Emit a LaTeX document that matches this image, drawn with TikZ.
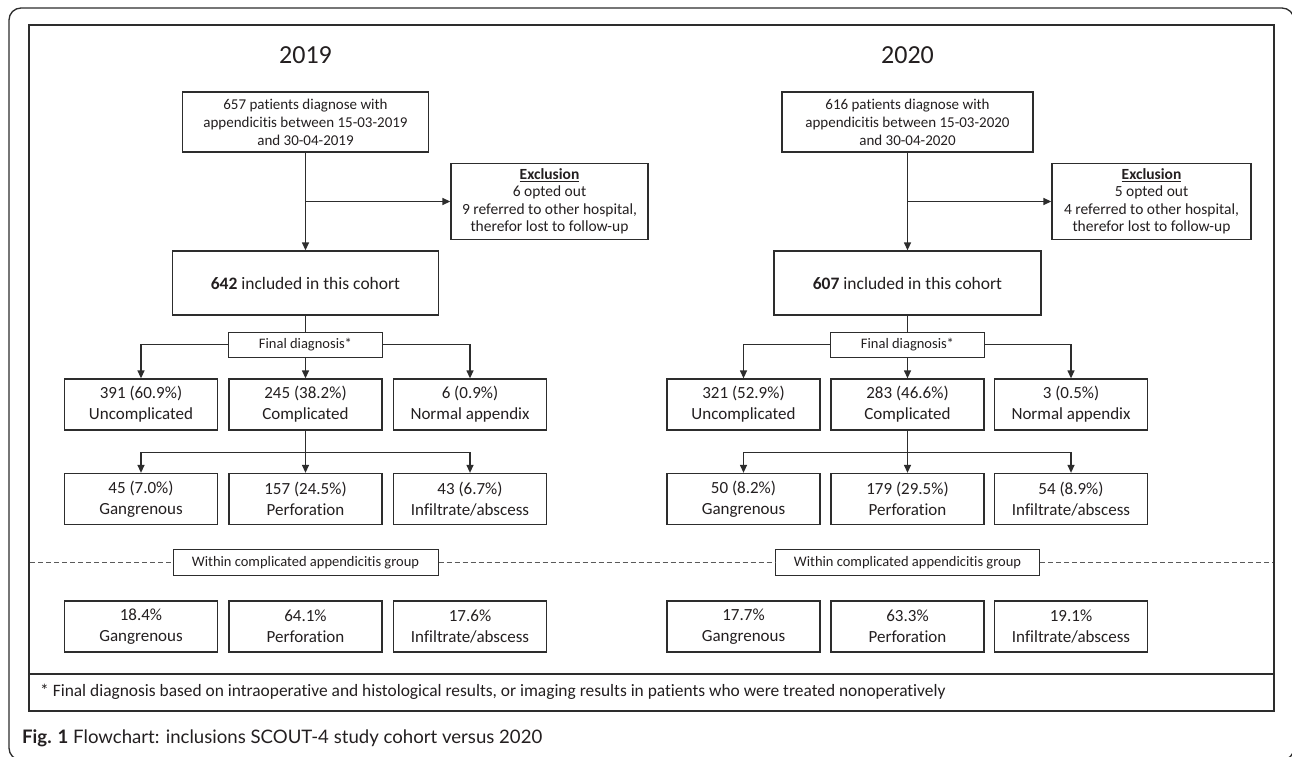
\documentclass[tikz,border=0pt]{standalone}
\usepackage{fontspec}
\setmainfont{Carlito}[Ligatures=NoCommon]
\newfontfamily\capfont{Lato}
\usetikzlibrary{arrows.meta}
\begin{document}
\begin{tikzpicture}[x=1pt,y=-1pt,
  box/.style={draw=drawColor,line width=1.3pt,fill=white,inner sep=0pt,align=center,text=textColor},
  topbox/.style={box,minimum height=60pt,font=\fontsize{15}{18}\selectfont},
  exclbox/.style={box,minimum height=76pt,font=\fontsize{15.5}{17.5}\selectfont},
  inclbox/.style={box,minimum height=64pt,font=\fontsize{17.5}{21}\selectfont},
  rowbox/.style={box,minimum width=153pt,minimum height=51pt,font=\fontsize{17}{21}\selectfont},
  tagbox/.style={box,line width=1pt,minimum height=25pt,font=\fontsize{14.5}{17}\selectfont},
  yearlabel/.style={text=textColor,inner sep=0pt,font=\fontsize{26}{30}\selectfont},
  link/.style={draw=drawColor,line width=1.3pt},
  arr/.style={link,-{Triangle[length=8pt,width=7pt]}}]
\definecolor{drawColor}{RGB}{45,45,45}
\definecolor{textColor}{RGB}{35,31,32}
\definecolor{dashColor}{RGB}{90,90,90}
\path[use as bounding box,fill=white] (0,0) rectangle (1292,757);
\begin{scope}
\clip (0,0) rectangle (1292,757);
\draw[drawColor,line width=1.3pt,rounded corners=12pt] (9,8) rectangle (1294,760);
\end{scope}

\draw[drawColor,line width=2pt] (29,25) rectangle (1274,711);
\draw[drawColor,line width=2pt] (29,674) -- (1274,674);

\node[yearlabel] (yr19) at (305.5,55) {2019};
\node[yearlabel] (yr20) at (907.5,55) {2020};

\node[topbox,minimum width=246pt] (top19) at (305.5,122) {657 patients diagnose with\\appendicitis between 15-03-2019\\and 30-04-2019};
\node[exclbox,minimum width=197pt] (exc19) at (549.5,201.5) {\underline{\textbf{Exclusion}}\\6 opted out\\9 referred to other hospital,\\therefor lost to follow-up};
\node[inclbox,minimum width=266pt] (inc19) at (305.5,283) {\textbf{642} included in this cohort};
\node[tagbox,minimum width=154pt] (fd19) at (305.5,344.5) {Final diagnosis*};
\node[rowbox] (unc19) at (141,404.5) {391 (60.9\%)\\Uncomplicated};
\node[rowbox] (com19) at (305.5,404.5) {245 (38.2\%)\\Complicated};
\node[rowbox] (nor19) at (470,404.5) {6 (0.9\%)\\Normal appendix};
\node[rowbox] (gan19) at (141,499) {45 (7.0\%)\\Gangrenous};
\node[rowbox] (per19) at (305.5,499) {157 (24.5\%)\\Perforation};
\node[rowbox] (inf19) at (470,499) {43 (6.7\%)\\Infiltrate/abscess};
\node[tagbox,minimum width=265pt,minimum height=26pt] (wit19) at (305.5,562.5) {Within complicated appendicitis group};
\node[rowbox] (g19) at (141,626.5) {18.4\%\\Gangrenous};
\node[rowbox] (p19) at (305.5,626.5) {64.1\%\\Perforation};
\node[rowbox] (i19) at (470,626.5) {17.6\%\\Infiltrate/abscess};

\node[topbox,minimum width=251pt] (top20) at (907.5,122) {616 patients diagnose with\\appendicitis between 15-03-2020\\and 30-04-2020};
\node[exclbox,minimum width=199pt] (exc20) at (1151.5,201.5) {\underline{\textbf{Exclusion}}\\5 opted out\\4 referred to other hospital,\\therefor lost to follow-up};
\node[inclbox,minimum width=267pt] (inc20) at (907.5,283) {\textbf{607} included in this cohort};
\node[tagbox,minimum width=154pt] (fd20) at (907.5,344.5) {Final diagnosis*};
\node[rowbox] (unc20) at (743.5,404.5) {321 (52.9\%)\\Uncomplicated};
\node[rowbox] (com20) at (907.5,404.5) {283 (46.6\%)\\Complicated};
\node[rowbox] (nor20) at (1071,404.5) {3 (0.5\%)\\Normal appendix};
\node[rowbox] (gan20) at (743.5,499) {50 (8.2\%)\\Gangrenous};
\node[rowbox] (per20) at (907.5,499) {179 (29.5\%)\\Perforation};
\node[rowbox] (inf20) at (1071,499) {54 (8.9\%)\\Infiltrate/abscess};
\node[tagbox,minimum width=264pt,minimum height=26pt] (wit20) at (907.5,562.5) {Within complicated appendicitis group};
\node[rowbox] (g20) at (743.5,626.5) {17.7\%\\Gangrenous};
\node[rowbox] (p20) at (907.5,626.5) {63.3\%\\Perforation};
\node[rowbox] (i20) at (1071,626.5) {19.1\%\\Infiltrate/abscess};

\draw[arr] (top19) -- (inc19);
\draw[arr] (top19.south |- exc19.west) -- (exc19.west);
\draw[link] (inc19) -- (fd19);
\draw[arr] (fd19.west) -| (unc19.north);
\draw[arr] (fd19) -- (com19);
\draw[arr] (fd19.east) -| (nor19.north);
\coordinate (br19) at (305.5,452.5);
\draw[link] (com19) -- (br19);
\draw[arr] (br19) -| (gan19.north);
\draw[arr] (br19) -- (per19);
\draw[arr] (br19) -| (inf19.north);

\draw[arr] (top20) -- (inc20);
\draw[arr] (top20.south |- exc20.west) -- (exc20.west);
\draw[link] (inc20) -- (fd20);
\draw[arr] (fd20.west) -| (unc20.north);
\draw[arr] (fd20) -- (com20);
\draw[arr] (fd20.east) -| (nor20.north);
\coordinate (br20) at (907.5,452.5);
\draw[link] (com20) -- (br20);
\draw[arr] (br20) -| (gan20.north);
\draw[arr] (br20) -- (per20);
\draw[arr] (br20) -| (inf20.north);

\coordinate (dl) at (30,562.5);
\coordinate (dr) at (1273,562.5);
\draw[dashColor,line width=1pt,dash pattern=on 5pt off 3pt] (dl) -- (wit19.west);
\draw[dashColor,line width=1pt,dash pattern=on 5pt off 3pt] (wit19.east) -- (wit20.west);
\draw[dashColor,line width=1pt,dash pattern=on 5pt off 3pt] (wit20.east) -- (dr);

\node[anchor=west,inner sep=0pt,text=textColor,font=\fontsize{17.4}{20}\selectfont] (note) at (40,692) {* Final diagnosis based on intraoperative and histological results, or imaging results in patients who were treated nonoperatively};
\node[anchor=west,inner sep=0pt,text=textColor,font=\capfont\fontsize{18.6}{21}\selectfont] (cap) at (22,738) {\textbf{Fig. 1} Flowchart: inclusions SCOUT-4 study cohort versus 2020};
\end{tikzpicture}
\end{document}
